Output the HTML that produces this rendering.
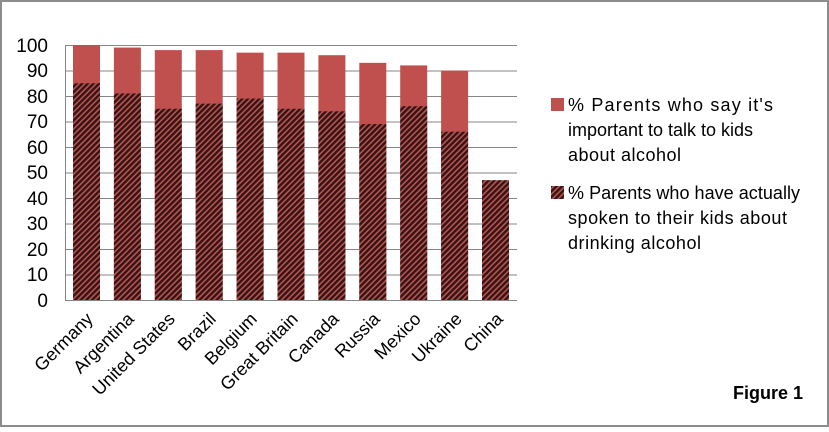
<!DOCTYPE html>
<html><head><style>
body{margin:0;background:#fff}
</style></head><body>
<svg width="829" height="427" xmlns="http://www.w3.org/2000/svg" font-family="Liberation Sans, sans-serif">
<defs>
<pattern id="h" width="4" height="4" patternUnits="userSpaceOnUse" patternTransform="rotate(-45)">
<rect width="4" height="4" fill="#c0504d"/>
<rect width="4" height="2.4" fill="#2e1616"/>
</pattern>
</defs>
<rect x="1" y="1" width="827" height="425" fill="#fff" stroke="#8c8c8c" stroke-width="2"/>
<g stroke="#868686" stroke-width="1">
<line x1="65" y1="45.5" x2="517" y2="45.5"/>
<line x1="65" y1="71" x2="517" y2="71"/>
<line x1="65" y1="96.5" x2="517" y2="96.5"/>
<line x1="65" y1="122" x2="517" y2="122"/>
<line x1="65" y1="147.5" x2="517" y2="147.5"/>
<line x1="65" y1="173" x2="517" y2="173"/>
<line x1="65" y1="198.5" x2="517" y2="198.5"/>
<line x1="65" y1="224" x2="517" y2="224"/>
<line x1="65" y1="249.5" x2="517" y2="249.5"/>
<line x1="65" y1="275" x2="517" y2="275"/>
<line x1="65" y1="300.5" x2="517" y2="300.5"/>
<line x1="65.5" y1="45" x2="65.5" y2="300"/>
</g>
<g font-size="19" fill="#000" text-anchor="end">
<text x="48" y="52">100</text><text x="48" y="77">90</text><text x="48" y="103">80</text>
<text x="48" y="128">70</text><text x="48" y="154">60</text><text x="48" y="179">50</text>
<text x="48" y="205">40</text><text x="48" y="230">30</text><text x="48" y="256">20</text>
<text x="48" y="281">10</text><text x="48" y="307">0</text>
</g>
<g fill="#c0504d">
<rect x="73" y="45" width="27" height="255"/>
<rect x="113.9" y="47.55" width="27" height="252.45"/>
<rect x="154.8" y="50.1" width="27" height="249.9"/>
<rect x="195.7" y="50.1" width="27" height="249.9"/>
<rect x="236.6" y="52.65" width="27" height="247.35"/>
<rect x="277.5" y="52.65" width="27" height="247.35"/>
<rect x="318.4" y="55.2" width="27" height="244.8"/>
<rect x="359.3" y="62.85" width="27" height="237.15"/>
<rect x="400.2" y="65.4" width="27" height="234.6"/>
<rect x="441.1" y="70.5" width="27" height="229.5"/>
</g>
<g fill="url(#h)">
<rect x="73" y="83.25" width="27" height="216.75"/>
<rect x="113.9" y="93.45" width="27" height="206.55"/>
<rect x="154.8" y="108.75" width="27" height="191.25"/>
<rect x="195.7" y="103.65" width="27" height="196.35"/>
<rect x="236.6" y="98.55" width="27" height="201.45"/>
<rect x="277.5" y="108.75" width="27" height="191.25"/>
<rect x="318.4" y="111.3" width="27" height="188.7"/>
<rect x="359.3" y="124.05" width="27" height="175.95"/>
<rect x="400.2" y="106.2" width="27" height="193.8"/>
<rect x="441.1" y="131.7" width="27" height="168.3"/>
<rect x="482" y="180.15" width="27" height="119.85"/>
</g>
<g font-size="18" fill="#000" text-anchor="end">
<text transform="translate(94,320) rotate(-45)">Germany</text>
<text transform="translate(135,320) rotate(-45)">Argentina</text>
<text transform="translate(176,320) rotate(-45)">United States</text>
<text transform="translate(217,320) rotate(-45)">Brazil</text>
<text transform="translate(258,320) rotate(-45)">Belgium</text>
<text transform="translate(299,320) rotate(-45)">Great Britain</text>
<text transform="translate(340,320) rotate(-45)">Canada</text>
<text transform="translate(381,320) rotate(-45)">Russia</text>
<text transform="translate(422,320) rotate(-45)">Mexico</text>
<text transform="translate(463,320) rotate(-45)">Ukraine</text>
<text transform="translate(504,320) rotate(-45)">China</text>
</g>
<rect x="551" y="98" width="13" height="13" fill="#c0504d"/>
<rect x="551" y="186" width="13" height="13" fill="url(#h)"/>
<g font-size="18" fill="#000">
<text x="568" y="111" textLength="205">% Parents who say it's</text>
<text x="568" y="136" textLength="185">important to talk to kids</text>
<text x="568" y="161" textLength="113">about alcohol</text>
<text x="568" y="199" textLength="232">% Parents who have actually</text>
<text x="568" y="224" textLength="219">spoken to their kids about</text>
<text x="568" y="249" textLength="133">drinking alcohol</text>
</g>
<text x="803" y="399" font-size="18" font-weight="bold" text-anchor="end">Figure 1</text>
</svg>
</body></html>
